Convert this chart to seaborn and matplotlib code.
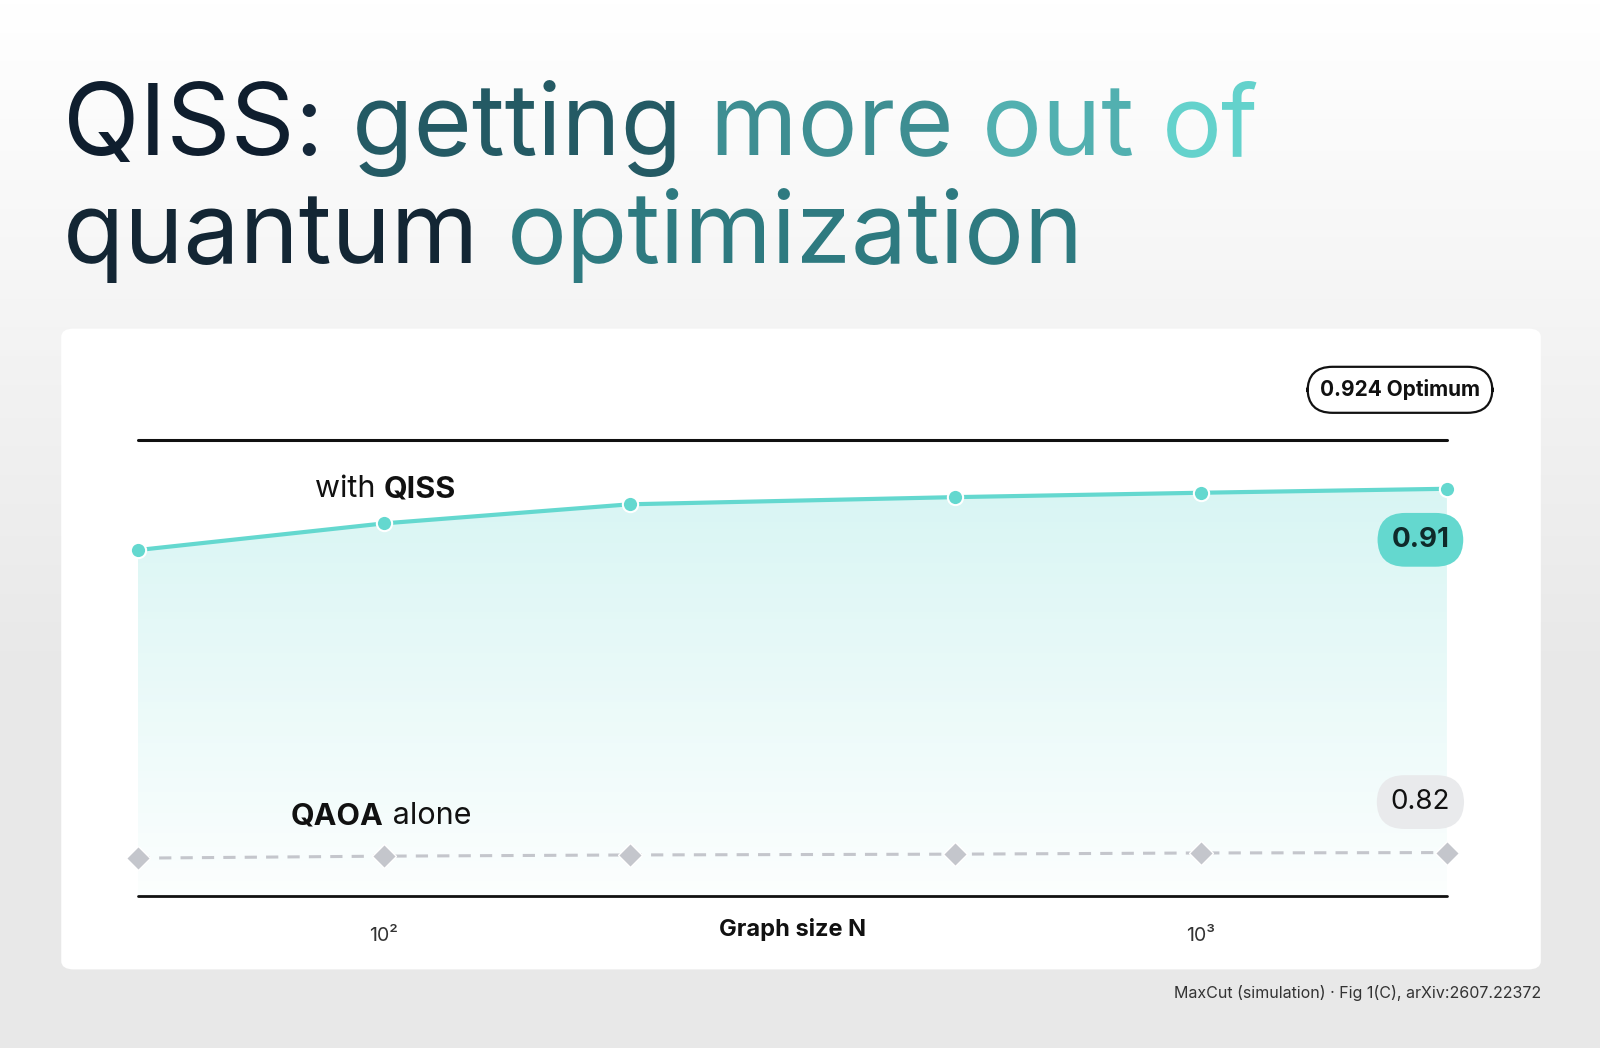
import matplotlib.pyplot as plt
import seaborn as sns
import numpy as np
from matplotlib.patches import FancyBboxPatch

sizes = [50, 100, 200, 500, 1000, 2000]
qiss = [0.8963, 0.9030, 0.9078, 0.9096, 0.9107, 0.9117]
qaoa = [0.8189, 0.8194, 0.8197, 0.8199, 0.8202, 0.8203]
optimum = 0.924
xticks = [100, 1000]
xtick_labels = ['10²', '10³']

sns.set_theme(style='white')
plt.rcParams['font.family'] = ['Inter', 'DejaVu Sans']

W, H = 1568, 1027
fig = plt.figure(figsize=(16, 10.48), dpi=100)

# background gradient
bg = fig.add_axes([0, 0, 1, 1], zorder=-10)
grad = np.linspace(1, 0, 256).reshape(-1, 1)
grad = np.clip((grad - 0.35) / 0.65, 0, 1)
bg.imshow(np.dstack([0.91 + 0.09 * grad] * 3), aspect='auto', extent=[0, 1, 0, 1])
bg.set_axis_off()
bg.set_xlim(0, 1); bg.set_ylim(0, 1)
bg.add_patch(FancyBboxPatch((60 / W, 1 - 950 / H), 1450 / W, 628 / H,
                            boxstyle='round,pad=0,rounding_size=0.008',
                            fc='white', ec='none', transform=bg.transAxes))

# title with word colours
def colored_line(parts, x, y, size):
    fig.canvas.draw()
    r = fig.canvas.get_renderer()
    for txt, col in parts:
        t = fig.text(x, y, txt, fontsize=size, color=col, fontweight=400)
        bb = t.get_window_extent(renderer=r)
        x += bb.width / fig.bbox.width

colored_line([('QISS', '#0f1e2e'), (': ', '#15283a'), ('getting ', '#245a64'),
              ('more ', '#3e8e92'), ('out ', '#52b0b0'), ('of', '#64d2cc')],
             62 / W, 1 - 152 / H, 72)
colored_line([('quantum ', '#132634'), ('optimization', '#2e7a80')],
             62 / W, 1 - 258 / H, 72)

ax = fig.add_axes([135 / W, 1 - 878 / H, (1418 - 135) / W, (878 - 431) / H])
ax.set_xscale('log')
ax.patch.set_alpha(0)
for s in ax.spines.values():
    s.set_visible(False)

ax.axhline(optimum, color='#111111', lw=2.2, clip_on=False)
ax.axhline(0.8094, color='#111111', lw=2, clip_on=False)

# gradient fill under QISS
poly = ax.fill_between(sizes, qiss, 0.8094, color='none')
g = np.linspace(1, 0, 256).reshape(-1, 1)
img = np.zeros((256, 1, 4))
img[..., 0] = 0.39; img[..., 1] = 0.85; img[..., 2] = 0.82
img[..., 3] = 0.02 + 0.23 * g
ax.imshow(img, aspect='auto', extent=[sizes[0], sizes[-1], 0.8094, max(qiss)],
          origin='upper', zorder=1).set_clip_path(poly.get_paths()[0], transform=ax.transData)

sns.lineplot(x=sizes, y=qiss, ax=ax, color='#64d8cf', lw=3, marker='o',
             markersize=11, markeredgecolor='white', markeredgewidth=1.5, zorder=3, clip_on=False)
sns.lineplot(x=sizes, y=qaoa, ax=ax, color='#c4c6cc', lw=2.2, linestyle=(0, (4, 3)),
             marker='D', markersize=12, markeredgecolor='white', markeredgewidth=1, zorder=3,
             clip_on=False)
ax.set_xlim(sizes[0], sizes[-1])
ax.set_ylim(0.8094, optimum)
ax.set_yticks([])
ax.set_xticks(xticks)
ax.set_xticklabels(xtick_labels, fontsize=14, color='#333333')
ax.xaxis.set_minor_locator(plt.NullLocator())
ax.tick_params(axis='x', length=0, pad=22)

ax.text(100, 0.9035 + 0.0045, 'with ', ha='right', va='bottom', fontsize=22, color='#111111')
ax.text(100, 0.9035 + 0.0045, 'QISS', ha='left', va='bottom', fontsize=22,
        fontweight='bold', color='#111111')
ax.text(100, 0.8194 + 0.0065, 'QAOA', ha='right', va='bottom', fontsize=22,
        fontweight='bold', color='#111111')
ax.text(100, 0.8194 + 0.0065, ' alone', ha='left', va='bottom', fontsize=22, color='#111111')

fig.text(1372 / W, 1 - 382 / H, f'{optimum} Optimum', ha='center', va='center',
         fontsize=15, fontweight='bold', color='#111111',
         bbox=dict(boxstyle='round,pad=0.6,rounding_size=1.2', fc='white', ec='#111111', lw=1.6))
fig.text(1392 / W, 1 - 529 / H, f'{qiss[-1]:.2f}', ha='center', va='center',
         fontsize=20, fontweight='bold', color='#0f2a2a',
         bbox=dict(boxstyle='round,pad=0.5,rounding_size=1.0', fc='#64d8cf', ec='none'))
fig.text(1392 / W, 1 - 786 / H, f'{qaoa[-1]:.2f}', ha='center', va='center',
         fontsize=20, color='#111111',
         bbox=dict(boxstyle='round,pad=0.5,rounding_size=1.0', fc='#e9eaec', ec='none'))

fig.text((135 + 1418) / 2 / W, 1 - 911 / H, 'Graph size N', ha='center', va='center',
         fontsize=17, fontweight='bold', color='#111111')
fig.text(1510 / W, 1 - 973 / H, 'MaxCut (simulation) · Fig 1(C), arXiv:2607.22372',
         ha='right', va='center', fontsize=11.5, color='#333333')

fig.savefig('out.png', dpi=100)
